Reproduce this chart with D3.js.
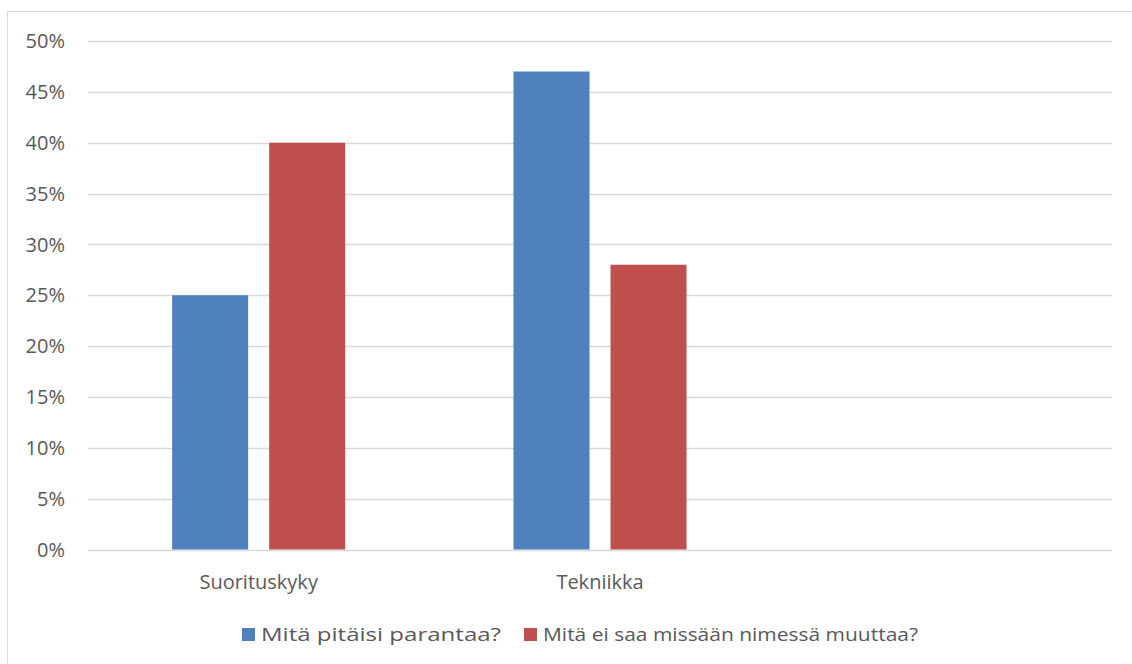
<!DOCTYPE html>
<html>
<head>
<meta charset="utf-8">
<script src="https://cdn.jsdelivr.net/npm/d3@7"></script>
<style>
  html, body { margin: 0; padding: 0; background: #fff; }
  svg { display: block; }
  text { font-family: "Open Sans", "Noto Sans", sans-serif; fill: #595959; }
</style>
</head>
<body>
<svg id="chart" width="1132" height="664"></svg>
<script>
// Categories (the third slot is empty and stays blank)
const categories = ["Suorituskyky", "Tekniikka", ""];
const seriesNames = ["Mitä pitäisi parantaa?", "Mitä ei saa missään nimessä muuttaa?"];
const parantaa = [0.25, 0.47, null];
const muuttaa = [0.40, 0.28, null];
const yTicks = [0, 0.05, 0.10, 0.15, 0.20, 0.25, 0.30, 0.35, 0.40, 0.45, 0.50];
const colors = ["#4F81BD", "#C0504D"];

const svg = d3.select("#chart");
const W = 1132, H = 664;
const plot = { left: 88, right: 1112, top: 41, bottom: 549.5 };

// Outer frame
svg.append("rect")
  .attr("x", 7.5).attr("y", 11.5)
  .attr("width", W + 10).attr("height", H + 10)
  .attr("fill", "#fff")
  .attr("stroke", "#D9D9D9").attr("stroke-width", 1);

const y = d3.scaleLinear().domain([0, 0.5]).range([plot.bottom, plot.top]);

const x0 = d3.scaleBand()
  .domain(categories.map((c, i) => i))
  .range([plot.left, plot.right])
  .paddingInner(0.493)
  .paddingOuter(0.2465);

const x1 = d3.scaleBand()
  .domain([0, 1])
  .range([0, x0.bandwidth()])
  .paddingInner(0.2165)
  .paddingOuter(0);

// Gridlines
svg.append("g")
  .selectAll("line")
  .data(yTicks)
  .join("line")
  .attr("x1", plot.left).attr("x2", plot.right)
  .attr("y1", d => Math.round(y(d)) + 0.5)
  .attr("y2", d => Math.round(y(d)) + 0.5)
  .attr("stroke", "#D9D9D9").attr("stroke-width", 1.3);

// Y axis labels
const yAxis = d3.axisLeft(y)
  .tickValues(yTicks)
  .tickFormat(d3.format(".0%"))
  .tickSize(0)
  .tickPadding(0);
const gy = svg.append("g")
  .attr("transform", `translate(${plot.left - 23},0)`)
  .call(yAxis);
gy.select(".domain").remove();
gy.selectAll("text")
  .attr("font-size", 20)
  .attr("dy", "0.33em")
  .attr("fill", "#595959");

// Bars
const rows = categories.map((c, i) => ({ i, vals: [parantaa[i], muuttaa[i]] }));
const groups = svg.append("g")
  .selectAll("g")
  .data(rows)
  .join("g")
  .attr("transform", d => `translate(${x0(d.i)},0)`);

groups.selectAll("rect")
  .data(d => d.vals.map((v, s) => ({ v, s })).filter(e => e.v !== null))
  .join("rect")
  .attr("x", d => x1(d.s))
  .attr("width", x1.bandwidth())
  .attr("y", d => y(d.v))
  .attr("height", d => y(0) - y(d.v))
  .attr("fill", d => colors[d.s]);

// Category axis labels
const xAxis = d3.axisBottom(x0)
  .tickFormat(i => categories[i])
  .tickSize(0)
  .tickPadding(0);
const gx = svg.append("g")
  .attr("transform", `translate(0,${plot.bottom})`)
  .call(xAxis);
gx.select(".domain").remove();
gx.selectAll("text")
  .attr("font-size", 20)
  .attr("dy", null)
  .attr("y", 39)
  .attr("fill", "#595959");

// Legend
const legendItems = [
  { name: seriesNames[0], color: colors[0], x: 242, tx: 261, w: 240 },
  { name: seriesNames[1], color: colors[1], x: 524, tx: 543, w: 375 }
];
const lg = svg.append("g");
legendItems.forEach(it => {
  lg.append("rect")
    .attr("x", it.x).attr("y", 628)
    .attr("width", 13).attr("height", 13)
    .attr("fill", it.color);
  lg.append("text")
    .attr("x", it.tx).attr("y", 640.5)
    .attr("font-size", 19)
    .attr("textLength", it.w)
    .attr("lengthAdjust", "spacingAndGlyphs")
    .text(it.name);
});
</script>
</body>
</html>
